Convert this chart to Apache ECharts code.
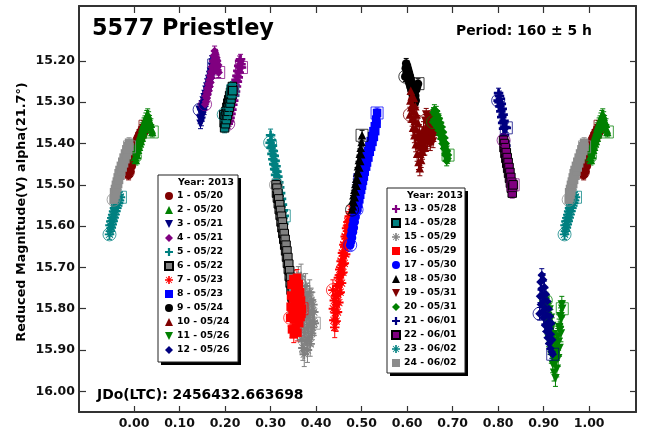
<!DOCTYPE html>
<html><head><meta charset="utf-8">
<script src="https://cdn.jsdelivr.net/npm/echarts@6/dist/echarts.min.js"></script>
<style>html,body{margin:0;padding:0;background:#fff}#c{width:645px;height:432px}</style>
</head><body><div id="c"></div><script>
// ---- data: [phase, reduced magnitude] per session ----
const s01 = [[0.986,15.470],[0.987,15.452],[0.988,15.476],[0.989,15.445],[0.990,15.462],[0.991,15.438],[0.992,15.468],[0.993,15.446],[0.994,15.430],[0.995,15.455],[0.996,15.425],[0.997,15.442],[0.998,15.418],[0.999,15.436],[1.000,15.410],[1.001,15.428],[1.002,15.404],[1.003,15.420],[1.004,15.398],[1.005,15.412],[1.006,15.392],[1.007,15.408],[1.008,15.386],[1.010,15.400],[1.011,15.378],[1.012,15.394],[1.014,15.372],[1.015,15.388],[1.017,15.366],[1.019,15.380],[1.021,15.360],[1.023,15.372],[1.024,15.358]];
const s02 = [[1.002,15.432],[1.003,15.415],[1.004,15.440],[1.005,15.420],[1.006,15.405],[1.007,15.428],[1.008,15.398],[1.009,15.415],[1.010,15.392],[1.011,15.408],[1.012,15.385],[1.013,15.400],[1.014,15.378],[1.015,15.394],[1.016,15.370],[1.017,15.386],[1.018,15.362],[1.019,15.378],[1.020,15.356],[1.021,15.372],[1.022,15.350],[1.023,15.364],[1.024,15.345],[1.025,15.358],[1.026,15.338],[1.027,15.352],[1.028,15.332],[1.029,15.346],[1.030,15.328],[1.031,15.342],[1.032,15.335],[1.033,15.352],[1.034,15.344],[1.035,15.360],[1.037,15.352],[1.039,15.366],[1.040,15.372]];
const s03 = [[0.144,15.318],[0.145,15.340],[0.146,15.352],[0.147,15.326],[0.148,15.345],[0.149,15.312],[0.150,15.334],[0.151,15.305],[0.152,15.326],[0.153,15.296],[0.154,15.318],[0.155,15.288],[0.156,15.306],[0.157,15.280],[0.158,15.298],[0.159,15.270],[0.160,15.288],[0.161,15.262],[0.162,15.278],[0.163,15.252],[0.164,15.270],[0.165,15.244],[0.166,15.260],[0.167,15.234],[0.168,15.250],[0.169,15.226],[0.170,15.240],[0.171,15.214],[0.172,15.230],[0.173,15.204],[0.174,15.196],[0.175,15.210]];
const s04 = [[0.156,15.305],[0.157,15.285],[0.158,15.298],[0.159,15.276],[0.160,15.290],[0.161,15.266],[0.162,15.280],[0.163,15.256],[0.164,15.272],[0.165,15.246],[0.166,15.262],[0.167,15.236],[0.168,15.252],[0.169,15.226],[0.170,15.240],[0.171,15.214],[0.172,15.230],[0.173,15.200],[0.174,15.218],[0.175,15.188],[0.176,15.205],[0.177,15.176],[0.178,15.196],[0.179,15.184],[0.180,15.206],[0.181,15.192],[0.182,15.214],[0.183,15.200],[0.184,15.222],[0.185,15.210],[0.186,15.228]];
const s05 = [[0.299,15.398],[0.300,15.380],[0.301,15.410],[0.302,15.392],[0.303,15.425],[0.304,15.405],[0.305,15.438],[0.306,15.418],[0.307,15.450],[0.308,15.430],[0.309,15.462],[0.310,15.442],[0.311,15.476],[0.312,15.455],[0.313,15.488],[0.314,15.468],[0.315,15.500],[0.316,15.480],[0.317,15.514],[0.318,15.494],[0.319,15.526],[0.320,15.506],[0.321,15.540],[0.322,15.520],[0.323,15.552],[0.324,15.534],[0.325,15.566],[0.326,15.548],[0.327,15.580],[0.328,15.562],[0.329,15.594],[0.330,15.575]];
const s06 = [[0.312,15.500],[0.313,15.520],[0.314,15.508],[0.315,15.532],[0.316,15.520],[0.317,15.546],[0.318,15.534],[0.319,15.560],[0.320,15.548],[0.321,15.574],[0.322,15.562],[0.323,15.590],[0.324,15.576],[0.325,15.604],[0.326,15.590],[0.327,15.618],[0.328,15.604],[0.329,15.632],[0.330,15.618],[0.331,15.646],[0.332,15.632],[0.333,15.660],[0.334,15.646],[0.335,15.675],[0.336,15.660],[0.337,15.690],[0.338,15.676],[0.339,15.705],[0.340,15.692],[0.341,15.722],[0.342,15.708],[0.343,15.738],[0.344,15.724],[0.345,15.755],[0.346,15.742],[0.347,15.772],[0.348,15.760],[0.349,15.790],[0.350,15.778],[0.351,15.808]];
const s07 = [[0.437,15.755],[0.438,15.800],[0.439,15.828],[0.440,15.780],[0.441,15.845],[0.442,15.810],[0.443,15.768],[0.444,15.830],[0.445,15.790],[0.446,15.745],[0.447,15.808],[0.448,15.765],[0.449,15.725],[0.450,15.785],[0.451,15.740],[0.452,15.705],[0.453,15.760],[0.454,15.718],[0.455,15.685],[0.456,15.738],[0.457,15.695],[0.458,15.665],[0.459,15.712],[0.460,15.672],[0.461,15.645],[0.462,15.690],[0.463,15.650],[0.464,15.625],[0.465,15.668],[0.466,15.630],[0.467,15.605],[0.468,15.648],[0.469,15.612],[0.470,15.590],[0.471,15.628],[0.472,15.598],[0.473,15.576],[0.474,15.610],[0.475,15.585],[0.476,15.600]];
const s08 = [[0.489,15.560],[0.490,15.540],[0.491,15.555],[0.492,15.528],[0.493,15.546],[0.494,15.518],[0.495,15.535],[0.496,15.506],[0.497,15.524],[0.498,15.495],[0.499,15.512],[0.500,15.485],[0.501,15.502],[0.502,15.474],[0.503,15.490],[0.504,15.462],[0.505,15.480],[0.506,15.452],[0.507,15.468],[0.508,15.442],[0.510,15.456],[0.511,15.430],[0.512,15.446],[0.514,15.418],[0.515,15.434],[0.517,15.406],[0.518,15.420],[0.520,15.394],[0.521,15.408],[0.523,15.382],[0.524,15.396],[0.526,15.370],[0.527,15.384],[0.529,15.358],[0.530,15.370],[0.532,15.342],[0.533,15.352],[0.534,15.326]];
const s09 = [[0.596,15.238],[0.597,15.218],[0.598,15.206],[0.599,15.228],[0.600,15.212],[0.601,15.236],[0.602,15.220],[0.603,15.246],[0.604,15.228],[0.605,15.254],[0.606,15.236],[0.607,15.262],[0.608,15.244],[0.609,15.270],[0.610,15.252],[0.611,15.278],[0.612,15.260],[0.613,15.286],[0.614,15.268],[0.615,15.294],[0.616,15.276],[0.617,15.302],[0.618,15.284],[0.619,15.296],[0.620,15.270],[0.622,15.262],[0.624,15.255]];
const s10 = [[0.606,15.330],[0.607,15.296],[0.608,15.272],[0.609,15.312],[0.610,15.286],[0.611,15.340],[0.612,15.305],[0.613,15.362],[0.614,15.322],[0.615,15.290],[0.616,15.380],[0.617,15.345],[0.618,15.310],[0.619,15.402],[0.620,15.365],[0.621,15.330],[0.622,15.425],[0.623,15.385],[0.624,15.350],[0.625,15.445],[0.626,15.405],[0.627,15.372],[0.628,15.460],[0.629,15.425],[0.630,15.392],[0.631,15.440],[0.632,15.408],[0.633,15.378],[0.634,15.420],[0.635,15.395],[0.636,15.365],[0.637,15.402],[0.638,15.380],[0.639,15.410],[0.640,15.388]];
const s11 = [[0.905,15.780],[0.906,15.808],[0.907,15.830],[0.908,15.795],[0.909,15.850],[0.910,15.818],[0.911,15.872],[0.912,15.838],[0.913,15.802],[0.914,15.890],[0.915,15.855],[0.916,15.822],[0.917,15.912],[0.918,15.875],[0.919,15.842],[0.920,15.935],[0.921,15.896],[0.922,15.862],[0.923,15.955],[0.924,15.915],[0.925,15.878],[0.926,15.968],[0.927,15.928],[0.928,15.890],[0.929,15.945],[0.930,15.905],[0.931,15.868],[0.932,15.920],[0.933,15.880],[0.934,15.845],[0.935,15.895],[0.936,15.852],[0.937,15.818],[0.938,15.860],[0.939,15.825],[0.940,15.790],[0.941,15.800]];
const s12 = [[0.891,15.812],[0.892,15.770],[0.893,15.735],[0.894,15.790],[0.895,15.752],[0.896,15.718],[0.897,15.808],[0.898,15.765],[0.899,15.730],[0.900,15.822],[0.901,15.780],[0.902,15.748],[0.903,15.840],[0.904,15.798],[0.905,15.765],[0.906,15.855],[0.907,15.815],[0.908,15.782],[0.909,15.870],[0.910,15.832],[0.911,15.800],[0.912,15.884],[0.913,15.848],[0.914,15.818],[0.915,15.896],[0.916,15.862],[0.917,15.835],[0.918,15.905],[0.919,15.875],[0.920,15.910]];
const s13 = [[0.207,15.352],[0.208,15.332],[0.209,15.346],[0.210,15.322],[0.211,15.338],[0.212,15.312],[0.213,15.328],[0.214,15.300],[0.215,15.318],[0.216,15.290],[0.217,15.306],[0.218,15.280],[0.219,15.296],[0.220,15.268],[0.221,15.284],[0.222,15.258],[0.223,15.274],[0.224,15.246],[0.225,15.262],[0.226,15.236],[0.227,15.250],[0.228,15.224],[0.229,15.240],[0.230,15.212],[0.231,15.228],[0.232,15.200],[0.233,15.216],[0.234,15.196],[0.235,15.208],[0.236,15.216]];
const s14 = [[0.197,15.330],[0.198,15.350],[0.199,15.362],[0.200,15.335],[0.201,15.352],[0.202,15.322],[0.203,15.342],[0.204,15.312],[0.205,15.332],[0.206,15.302],[0.207,15.322],[0.208,15.294],[0.209,15.312],[0.210,15.284],[0.211,15.302],[0.212,15.276],[0.213,15.292],[0.214,15.268],[0.215,15.282],[0.216,15.262],[0.217,15.272]];
const s15 = [[0.361,15.728],[0.362,15.770],[0.363,15.812],[0.364,15.745],[0.365,15.850],[0.366,15.790],[0.367,15.722],[0.368,15.875],[0.369,15.815],[0.370,15.760],[0.371,15.895],[0.372,15.838],[0.373,15.782],[0.374,15.910],[0.375,15.858],[0.376,15.800],[0.377,15.745],[0.378,15.878],[0.379,15.822],[0.380,15.768],[0.381,15.900],[0.382,15.845],[0.383,15.790],[0.384,15.870],[0.385,15.815],[0.386,15.760],[0.387,15.885],[0.388,15.835],[0.389,15.780],[0.390,15.860],[0.391,15.805],[0.392,15.845],[0.393,15.790],[0.394,15.830],[0.395,15.808],[0.396,15.835]];
const s16 = [[0.343,15.822],[0.344,15.795],[0.345,15.768],[0.346,15.742],[0.347,15.850],[0.348,15.810],[0.349,15.775],[0.350,15.728],[0.351,15.862],[0.352,15.825],[0.353,15.785],[0.354,15.750],[0.355,15.845],[0.356,15.800],[0.357,15.760],[0.358,15.725],[0.359,15.858],[0.360,15.815],[0.361,15.778],[0.362,15.740],[0.363,15.835],[0.364,15.795],[0.365,15.760],[0.366,15.820],[0.367,15.780],[0.368,15.812],[0.369,15.800]];
const s17 = [[0.475,15.646],[0.476,15.622],[0.477,15.638],[0.478,15.610],[0.479,15.628],[0.480,15.598],[0.481,15.615],[0.482,15.586],[0.483,15.604],[0.484,15.574],[0.485,15.590],[0.486,15.560],[0.487,15.578],[0.488,15.546],[0.489,15.564],[0.490,15.532],[0.491,15.550],[0.492,15.518],[0.493,15.535],[0.494,15.502],[0.495,15.520],[0.496,15.488]];
const s18 = [[0.479,15.560],[0.480,15.538],[0.481,15.552],[0.482,15.525],[0.483,15.542],[0.484,15.512],[0.485,15.530],[0.486,15.498],[0.487,15.516],[0.488,15.485],[0.489,15.502],[0.490,15.470],[0.491,15.488],[0.492,15.455],[0.493,15.472],[0.494,15.440],[0.495,15.458],[0.496,15.425],[0.497,15.442],[0.498,15.410],[0.499,15.426],[0.500,15.396],[0.501,15.380]];
const s19 = [[0.640,15.345],[0.641,15.372],[0.642,15.330],[0.643,15.385],[0.644,15.355],[0.645,15.398],[0.646,15.340],[0.647,15.368],[0.648,15.392],[0.649,15.350],[0.650,15.378],[0.651,15.402],[0.652,15.336],[0.653,15.362],[0.654,15.388],[0.655,15.348],[0.656,15.375],[0.657,15.395],[0.658,15.358],[0.659,15.380],[0.660,15.365]];
const s20 = [[0.657,15.348],[0.658,15.325],[0.659,15.342],[0.660,15.318],[0.661,15.350],[0.662,15.330],[0.663,15.356],[0.664,15.322],[0.665,15.345],[0.666,15.360],[0.667,15.332],[0.668,15.352],[0.669,15.368],[0.670,15.340],[0.671,15.362],[0.672,15.378],[0.673,15.350],[0.674,15.372],[0.675,15.388],[0.676,15.360],[0.677,15.382],[0.678,15.400],[0.679,15.372],[0.680,15.395],[0.681,15.412],[0.682,15.386],[0.683,15.408],[0.684,15.428],[0.685,15.400],[0.686,15.422],[0.687,15.442],[0.688,15.418],[0.689,15.436],[0.690,15.428]];
const s21 = [[0.800,15.296],[0.801,15.278],[0.802,15.300],[0.803,15.285],[0.804,15.310],[0.805,15.292],[0.806,15.322],[0.807,15.304],[0.808,15.336],[0.809,15.316],[0.810,15.350],[0.811,15.330],[0.812,15.364],[0.813,15.345],[0.814,15.380],[0.815,15.360],[0.816,15.395],[0.817,15.405],[0.818,15.362]];
const s22 = [[0.812,15.392],[0.813,15.410],[0.814,15.400],[0.815,15.424],[0.816,15.410],[0.817,15.436],[0.818,15.422],[0.819,15.448],[0.820,15.434],[0.821,15.460],[0.822,15.446],[0.823,15.472],[0.824,15.458],[0.825,15.484],[0.826,15.470],[0.827,15.496],[0.828,15.482],[0.829,15.508],[0.830,15.494],[0.831,15.520],[0.832,15.506],[0.833,15.500]];
const s23 = [[0.946,15.620],[0.947,15.598],[0.948,15.612],[0.949,15.588],[0.950,15.604],[0.951,15.580],[0.952,15.596],[0.953,15.572],[0.954,15.588],[0.955,15.564],[0.956,15.580],[0.957,15.556],[0.958,15.572],[0.959,15.550],[0.960,15.564],[0.961,15.542],[0.962,15.556],[0.963,15.536],[0.964,15.550],[0.965,15.530],[0.966,15.544],[0.967,15.524],[0.968,15.538],[0.970,15.530]];
const s24 = [[0.955,15.536],[0.956,15.518],[0.957,15.532],[0.958,15.510],[0.959,15.524],[0.960,15.500],[0.961,15.516],[0.962,15.492],[0.963,15.506],[0.964,15.482],[0.965,15.498],[0.966,15.472],[0.967,15.488],[0.968,15.464],[0.970,15.478],[0.971,15.454],[0.972,15.468],[0.974,15.444],[0.975,15.458],[0.977,15.434],[0.978,15.448],[0.980,15.424],[0.981,15.438],[0.983,15.414],[0.984,15.428],[0.986,15.406],[0.987,15.418],[0.989,15.398],[0.990,15.408]];

const sessionLabels = ['1 - 05/20','2 - 05/20','3 - 05/21','4 - 05/21','5 - 05/22','6 - 05/22','7 - 05/23','8 - 05/23','9 - 05/24','10 - 05/24','11 - 05/26','12 - 05/26',
  '13 - 05/28','14 - 05/28','15 - 05/29','16 - 05/29','17 - 05/30','18 - 05/30','19 - 05/31','20 - 05/31','21 - 06/01','22 - 06/01','23 - 06/02','24 - 06/02'];
const sessionErrors = [0.012,0.012,0.012,0.012,0.015,0.012,0.025,0.012,0.012,0.018,0.02,0.015,0.012,0.012,0.03,0.02,0.012,0.012,0.015,0.012,0.012,0.012,0.012,0.012];
const xTicks = [0.00,0.10,0.20,0.30,0.40,0.50,0.60,0.70,0.80,0.90,1.00];
const yTicks = [15.20,15.30,15.40,15.50,15.60,15.70,15.80,15.90,16.00];
const sessions = [s01,s02,s03,s04,s05,s06,s07,s08,s09,s10,s11,s12,s13,s14,s15,s16,s17,s18,s19,s20,s21,s22,s23,s24];

// ---- styles ----
const COL = {dr:'#800000', gr:'#008000', nv:'#000080', pu:'#800080', te:'#008080', gy:'#808080', rd:'#ff0000', bl:'#0000ff', bk:'#000000', lg:'#8c8c8c'};
const SYM = {
  circle:'circle', tri:'triangle', diamond:'diamond', square:'rect',
  tdown:'path://M0,0L10,0L5,10Z',
  plus:'path://M3.6,0H6.4V3.6H10V6.4H6.4V10H3.6V6.4H0V3.6H3.6Z',
  star:'path://M4,0H6V10H4Z M0,4H10V6H0Z M1.6,0.9L9.1,8.4L8.4,9.1L0.9,1.6Z M8.4,0.9L9.1,1.6L1.6,9.1L0.9,8.4Z'
};
const style = [
  [COL.dr,SYM.circle],[COL.gr,SYM.tri],[COL.nv,SYM.tdown],[COL.pu,SYM.diamond],[COL.te,SYM.plus],[COL.gy,SYM.square,'#000'],
  [COL.rd,SYM.star],[COL.bl,SYM.square],[COL.bk,SYM.circle],[COL.dr,SYM.tri],[COL.gr,SYM.tdown],[COL.nv,SYM.diamond],
  [COL.pu,SYM.plus],[COL.te,SYM.square,'#000'],[COL.gy,SYM.star],[COL.rd,SYM.square],[COL.bl,SYM.circle],[COL.bk,SYM.tri],
  [COL.dr,SYM.tdown],[COL.gr,SYM.diamond],[COL.nv,SYM.plus],[COL.pu,SYM.square,'#000'],[COL.te,SYM.star],[COL.lg,SYM.square]
];

const XMIN = -0.121, XMAX = 1.103, YMIN = 15.067, YMAX = 16.05;
const WMIN = -0.056, WMAX = 1.045;
function copies(p){ const o=[]; for (const k of [-1,0,1]) { const q=p+k; if (q>=WMIN && q<=WMAX) o.push(q); } return o; }

const FONT = '"DejaVu Sans", Verdana, sans-serif';
const series = [];
sessions.forEach((pts, i) => {
  const [color, symbol, border] = style[i];
  const err = sessionErrors[i];
  const pd = [], ed = [];
  pts.forEach(([p, m]) => copies(p).forEach(q => { pd.push([q, m]); ed.push([q, m, err]); }));
  series.push({
    type:'custom', name:'err'+i, silent:true, clip:true, z:2,
    itemStyle:{color},
    renderItem:(params, api) => {
      const x = api.value(0), y = api.value(1), e = api.value(2);
      const a = api.coord([x, y - e]), b = api.coord([x, y + e]);
      const st = {stroke: color, lineWidth: 1};
      return {type:'group', children:[
        {type:'line', shape:{x1:a[0],y1:a[1],x2:b[0],y2:b[1]}, style:st},
        {type:'line', shape:{x1:a[0]-2.5,y1:a[1],x2:a[0]+2.5,y2:a[1]}, style:st},
        {type:'line', shape:{x1:b[0]-2.5,y1:b[1],x2:b[0]+2.5,y2:b[1]}, style:st}
      ]};
    },
    data: ed
  });
  series.push({
    type:'scatter', name: sessionLabels[i], z:2, silent:true,
    symbol, symbolSize: (symbol===SYM.plus||symbol===SYM.star) ? 9.5 : 8.5,
    itemStyle: border ? {color, borderColor:border, borderWidth:1, opacity:1} : {color, opacity:1},
    data: pd
  });
  const first = pts[0], last = pts[pts.length-1];
  const md = [];
  copies(first[0]).forEach(q => md.push({value:[q, first[1]], symbol:'circle', symbolSize:13}));
  copies(last[0]).forEach(q => md.push({value:[q, last[1]], symbol:'rect', symbolSize:[12,12]}));
  series.push({
    type:'scatter', name:'mk'+i, z:2, silent:true,
    itemStyle:{color:'rgba(0,0,0,0)', borderColor:color, borderWidth:1, opacity:0.75},
    data: md
  });
});

const axisLineStyle = {color:'#333', width:2};
const tickLine = {color:'#333', width:1.2};
const labelStyle = {fontFamily:FONT, fontWeight:'bold', fontSize:12.5, color:'#111'};

const legendCommon = {
  orient:'vertical', itemWidth:8, itemHeight:8, itemGap:2, padding:0, selectedMode:false,
  backgroundColor:'transparent', z:5,
  textStyle:{fontFamily:FONT, fontWeight:'bold', fontSize:9.3, lineHeight:12, color:'#000', padding:[0,0,0,-1]}
};

const option = {
  animation:false,
  backgroundColor:'#fff',
  grid:{left:79, right:9, top:6, bottom:20, containLabel:false, outerBoundsMode:'none'},
  xAxis:[
    {type:'value', min:XMIN, max:XMAX, position:'bottom',
     axisLine:{show:true, onZero:false, lineStyle:axisLineStyle},
     axisTick:{show:true, inside:true, length:6, customValues:xTicks, lineStyle:tickLine},
     axisLabel:Object.assign({show:true, customValues:xTicks, margin:5, formatter:v=>v.toFixed(2)}, labelStyle),
     splitLine:{show:false}},
    {type:'value', min:XMIN, max:XMAX, position:'top',
     axisLine:{show:true, onZero:false, lineStyle:axisLineStyle},
     axisTick:{show:true, inside:true, length:7, customValues:xTicks, lineStyle:tickLine},
     axisLabel:{show:false}, splitLine:{show:false}}
  ],
  yAxis:[
    {type:'value', inverse:true, min:YMIN, max:YMAX, position:'left',
     axisLine:{show:true, onZero:false, lineStyle:axisLineStyle},
     axisTick:{show:true, inside:true, length:7, customValues:yTicks, lineStyle:tickLine},
     axisLabel:Object.assign({show:true, customValues:yTicks, margin:4, formatter:v=>v.toFixed(2)}, labelStyle),
     splitLine:{show:false}},
    {type:'value', inverse:true, min:YMIN, max:YMAX, position:'right',
     axisLine:{show:true, onZero:false, lineStyle:axisLineStyle},
     axisTick:{show:true, inside:true, length:6, customValues:yTicks, lineStyle:tickLine},
     axisLabel:{show:false}, splitLine:{show:false}}
  ],
  legend:[
    Object.assign({data:sessionLabels.slice(0,12), left:164, top:190}, legendCommon),
    Object.assign({data:sessionLabels.slice(12), left:391, top:203}, legendCommon)
  ],
  graphic:[
    {type:'rect', z:3, shape:{x:161, y:178, width:80, height:187}, style:{fill:'#000'}},
    {type:'rect', z:3, shape:{x:158, y:175, width:80, height:187}, style:{fill:'#fff', stroke:'#222', lineWidth:1}},
    {type:'rect', z:3, shape:{x:390, y:191, width:78, height:185}, style:{fill:'#000'}},
    {type:'rect', z:3, shape:{x:387, y:188, width:78, height:185}, style:{fill:'#fff', stroke:'#222', lineWidth:1}},
    {type:'text', z:10, x:178, y:183, style:{text:'Year: 2013', fill:'#000', font:'bold 9.3px '+FONT, align:'left', verticalAlign:'middle', textAlign:'left', textVerticalAlign:'middle'}},
    {type:'text', z:10, x:407, y:196, style:{text:'Year: 2013', fill:'#000', font:'bold 9.3px '+FONT, align:'left', verticalAlign:'middle', textAlign:'left', textVerticalAlign:'middle'}},
    {type:'text', z:10, x:92, y:29, style:{text:'5577 Priestley', fill:'#000', font:'bold 22.4px '+FONT, align:'left', verticalAlign:'middle', textAlign:'left', textVerticalAlign:'middle'}},
    {type:'text', z:10, x:456, y:31, style:{text:'Period: 160 ± 5 h', fill:'#000', font:'bold 13.9px '+FONT, align:'left', verticalAlign:'middle', textAlign:'left', textVerticalAlign:'middle'}},
    {type:'text', z:10, x:97, y:395, style:{text:'JDo(LTC): 2456432.663698', fill:'#000', font:'bold 13.9px '+FONT, align:'left', verticalAlign:'middle', textAlign:'left', textVerticalAlign:'middle'}},
    {type:'text', z:10, x:22, y:212, rotation:Math.PI/2, style:{text:'Reduced Magnitude(V) alpha(21.7°)', fill:'#000', font:'bold 12.8px '+FONT, align:'center', verticalAlign:'middle', textAlign:'center', textVerticalAlign:'middle'}}
  ],
  series
};
const chart = echarts.init(document.getElementById('c'), null, {renderer:'canvas'});
chart.setOption(option);
</script></body></html>
